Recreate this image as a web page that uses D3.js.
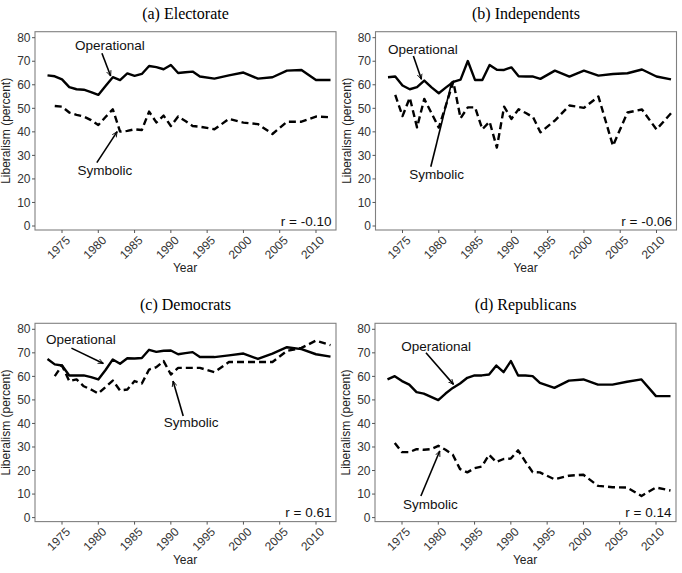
<!DOCTYPE html>
<html><head><meta charset="utf-8">
<script src="https://cdn.jsdelivr.net/npm/d3@7"></script>
<style>body{margin:0;background:#fff}svg{display:block}</style>
</head><body>
<script>
// ---- data ----
const yearsOp = [1973,1974,1975,1976,1977,1978,1979,1980,1981,1982,1983,1984,1985,1986,1987,1988,1989,1990,1991,1992,1993,1994,1996,1998,2000,2002,2004,2006,2008,2010,2012];
const yearsSym = [1974,1975,1976,1977,1978,1979,1980,1981,1982,1983,1984,1985,1986,1987,1988,1989,1990,1991,1992,1993,1994,1996,1998,2000,2002,2004,2006,2008,2010,2012];
const xTicks = [1975,1980,1985,1990,1995,2000,2005,2010];
const yTicks = [0,10,20,30,40,50,60,70,80];
const panelTitles = ["(a) Electorate","(b) Independents","(c) Democrats","(d) Republicans"];
const corrLabels = ["r = -0.10","r = -0.06","r = 0.61","r = 0.14"];

const electorateOp = [64,63.6,62.3,59,58.1,57.9,56.9,55.7,59.5,63.2,62,64.8,63.8,64.6,68,67.5,66.6,68.4,65,65.3,65.6,63.5,62.6,64,65.2,62.6,63.2,66,66.3,62,62];
const electorateSym = [51,50.7,48.2,47.2,46.5,45,42.9,46.3,49.6,40.1,40.4,41.1,40.8,48.6,44,46.9,42.5,46.5,44.6,42.5,42.2,41.1,45.5,43.9,43.3,39.1,44.3,44.3,46.5,46.2];
const independentsOp = [63.2,63.5,59.7,58.1,59,61.8,58.9,56.4,58.9,61.2,62.2,70.1,62,62,68.4,66.4,66.3,67.4,63.6,63.5,63.5,62.5,66,63.5,66,63.9,64.6,64.9,66.5,63.5,62.3];
const independentsSym = [55.7,46.7,54.5,41.9,54,47.9,41.8,51.5,61.3,45.8,50.4,50.4,41.1,44.3,33.3,50.7,45.5,49.6,48,46.2,39.8,44.8,51.2,50.2,55,34.1,48.2,49.5,41,47.9];
const democratsOp = [67.4,65.1,64.6,60.4,60.4,60.4,59.7,58.7,62.7,67.2,65.4,67.7,67.6,67.8,71.3,70.4,70.9,71,69.4,69.9,70.3,68.2,68.2,68.9,69.7,67.4,69.7,72.4,71.6,69.4,68.4];
const democratsSym = [60.1,64.6,58,58.7,55.8,54.4,52.7,55.5,58.2,54,54.4,58,57,62.9,63.9,66.5,60.8,63.6,63.6,63.6,63.6,61.8,66.1,66.1,66.1,66.1,70.8,72.1,75.2,73.3];
const republicansOp = [58.7,60.1,58,56.5,53.3,52.7,51.3,49.9,52.7,55.1,57,59.4,60.4,60.4,60.8,64.6,61.8,66.5,60.4,60.4,60.1,57.2,55.1,58.2,58.7,56.5,56.5,57.7,58.7,51.6,51.6];
const republicansSym = [31.7,27.8,27.8,29.1,28.8,29.1,30.5,28.8,26.7,20.6,19.2,21,21.7,26.7,23.6,24.9,25.1,28.6,23.8,19.3,19.2,16.3,17.8,18.2,13.5,12.9,12.8,9.2,12.8,11.5];

// annotation positions in data units: [textYear, textValue, arrowFromYear, arrowFromValue, arrowToYear, arrowToValue]
const opLabels = [[1981.6,76.9,1980.5,73.4,1981.7,63.7],[1977.8,75.1,1976.5,72.2,1977.6,62.3],[1977.6,75.7,1976.3,72.0,1980.7,65.5],[1979.7,72.9,1978.3,70.0,1982.1,56.6]];
const symLabels = [[1980.9,23.5,1979.8,26.9,1982.6,40.1],[1979.7,22.1,1978.9,25.2,1981.8,61.3],[1992.8,40.3,1991.7,43.2,1990.3,58.0],[1978.9,5.6,1977.6,9.2,1980.2,28.3]];

const seriesOp = [electorateOp, independentsOp, democratsOp, republicansOp];
const seriesSym = [electorateSym, independentsSym, democratsSym, republicansSym];

// ---- drawing ----
const W = 682, H = 573;
const svg = d3.select("body").append("svg").attr("width", W).attr("height", H);
const offsets = [[0,0],[340.5,0],[0,291.6],[340,291.6]];
const frame = {l:35, r:336, t:31.7, b:230};
const x = d3.scaleLinear().domain([1973, 2012]).range([47.5, 330.5]);
const y = d3.scaleLinear().domain([0, 80]).range([226, 37.7]);
const sans = "Liberation Sans, Arial, sans-serif";

svg.append("defs").append("marker")
  .attr("id","ah").attr("viewBox","0 0 10 10").attr("refX",9).attr("refY",5)
  .attr("markerWidth",6).attr("markerHeight",6).attr("orient","auto")
  .attr("markerUnits","userSpaceOnUse")
  .append("path").attr("d","M0,1 L9,5 L0,9").attr("fill","none").attr("stroke","#000").attr("stroke-width",1.4);

panelTitles.forEach((title, i) => {
  const g = svg.append("g").attr("transform", `translate(${offsets[i][0]},${offsets[i][1]})`);
  g.append("text").attr("x", (frame.l + frame.r)/2).attr("y", 18.5)
    .attr("text-anchor","middle").attr("font-family","Liberation Serif, Times New Roman, serif")
    .attr("font-size", 16).attr("fill","#000").text(title);

  g.append("rect").attr("x", frame.l).attr("y", frame.t)
    .attr("width", frame.r - frame.l).attr("height", frame.b - frame.t)
    .attr("fill","none").attr("stroke","#808080").attr("stroke-width",1.1);

  // y axis
  yTicks.forEach(v => {
    g.append("line").attr("x1", frame.l - 3).attr("x2", frame.l).attr("y1", y(v)).attr("y2", y(v))
      .attr("stroke","#555").attr("stroke-width",1);
    g.append("text").attr("x", frame.l - 4.5).attr("y", y(v)).attr("dy","0.35em")
      .attr("text-anchor","end").attr("font-family", sans).attr("font-size", 12).attr("fill","#333").text(v);
  });
  // x axis
  xTicks.forEach(v => {
    g.append("line").attr("x1", x(v)).attr("x2", x(v)).attr("y1", frame.b).attr("y2", frame.b + 3)
      .attr("stroke","#555").attr("stroke-width",1);
    g.append("text").attr("transform", `translate(${x(v)+3},${frame.b + 5}) rotate(-45)`)
      .attr("text-anchor","end").attr("dy","0.7em").attr("font-family", sans).attr("font-size", 12)
      .attr("fill","#333").text(v);
  });
  g.append("text").attr("x", 185).attr("y", 272).attr("text-anchor","middle")
    .attr("font-family", sans).attr("font-size", 12).attr("fill","#222").text("Year");
  g.append("text").attr("transform", `translate(10,${(frame.t+frame.b)/2}) rotate(-90)`)
    .attr("text-anchor","middle").attr("font-family", sans).attr("font-size", 12).attr("fill","#222")
    .text("Liberalism (percent)");

  // lines
  const lineOp = d3.line().x((d, j) => x(yearsOp[j])).y(d => y(d));
  const lineSym = d3.line().x((d, j) => x(yearsSym[j])).y(d => y(d));
  g.append("path").attr("d", lineOp(seriesOp[i])).attr("fill","none").attr("stroke","#000")
    .attr("stroke-width",2.4).attr("stroke-linejoin","round");
  g.append("path").attr("d", lineSym(seriesSym[i])).attr("fill","none").attr("stroke","#000")
    .attr("stroke-width",2.4).attr("stroke-dasharray","7,4").attr("stroke-linejoin","round");

  // annotations
  [[opLabels[i],"Operational"],[symLabels[i],"Symbolic"]].forEach(([a, label]) => {
    g.append("line").attr("x1", x(a[2])).attr("y1", y(a[3])).attr("x2", x(a[4])).attr("y2", y(a[5]))
      .attr("stroke","#000").attr("stroke-width",1.6).attr("marker-end","url(#ah)");
    g.append("text").attr("x", x(a[0])).attr("y", y(a[1])).attr("dy","0.35em")
      .attr("text-anchor","middle").attr("font-family", sans).attr("font-size", 13.5)
      .attr("fill","#111").text(label);
  });

  g.append("text").attr("x", 331.5).attr("y", 225.5).attr("text-anchor","end")
    .attr("font-family", sans).attr("font-size", 13.5).attr("fill","#111").text(corrLabels[i]);
});
</script>
</body></html>
